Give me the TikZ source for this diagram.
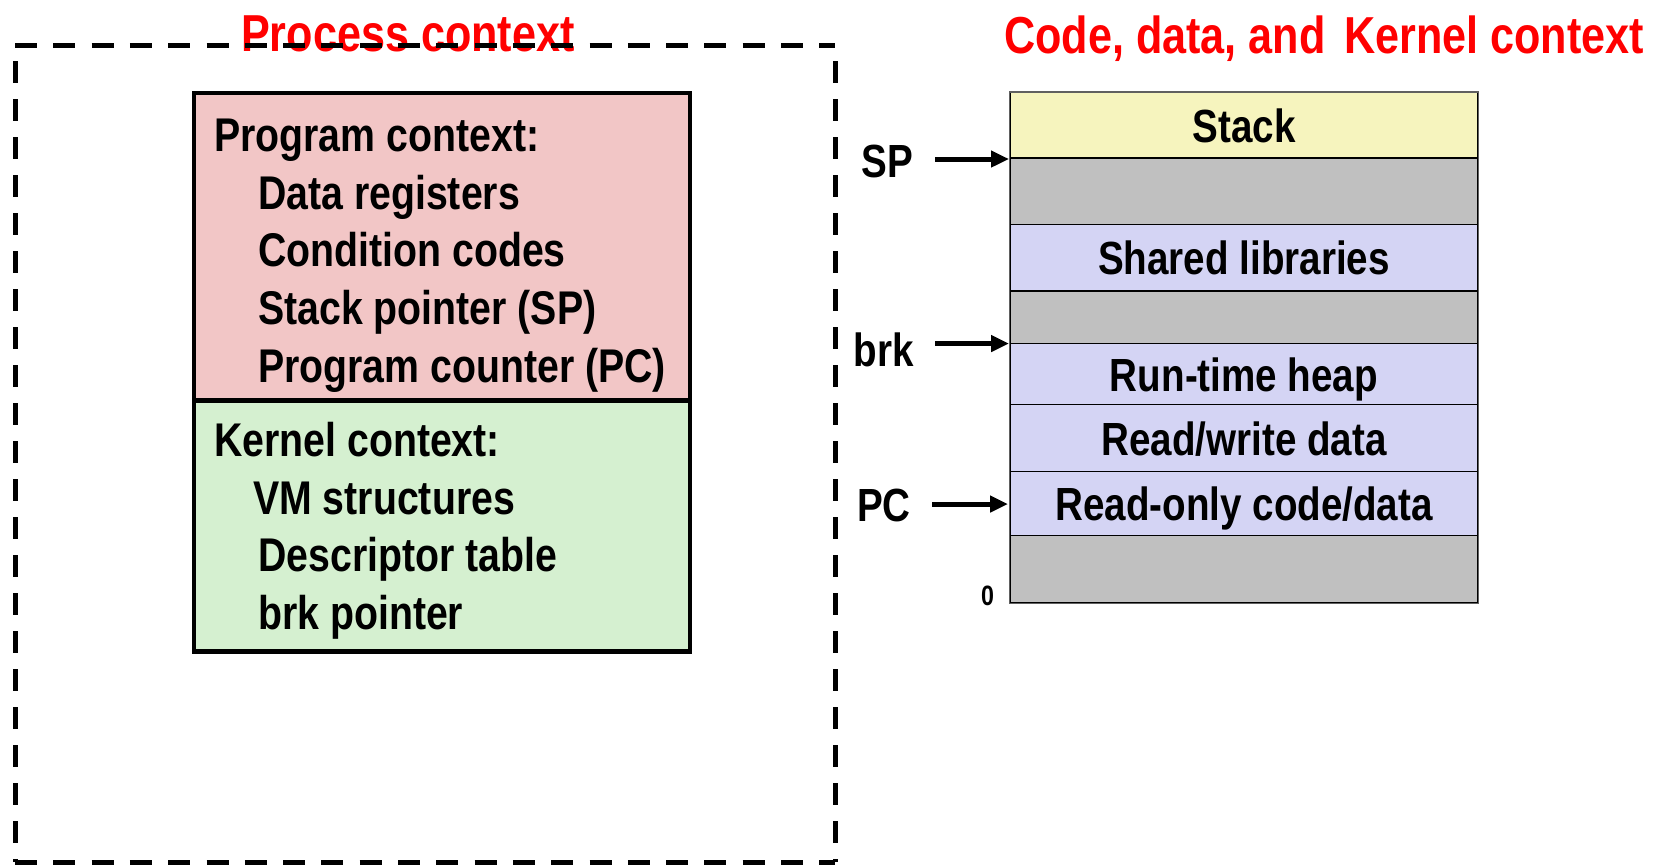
\documentclass[tikz,border=0pt]{standalone}
\usepackage{fontspec}
\setmainfont{Liberation Sans}[FakeStretch=0.83]
\usetikzlibrary{arrows.meta}
\definecolor{pinkf}{HTML}{F2C6C6}
\definecolor{greenf}{HTML}{D5F0D0}
\definecolor{yelf}{HTML}{F6F4BE}
\definecolor{grayf}{HTML}{C0C0C0}
\definecolor{lavf}{HTML}{D4D4F4}
\definecolor{redt}{HTML}{FF0000}
\definecolor{edgec}{HTML}{606060}
\begin{document}
\begin{tikzpicture}[x=1pt,y=-1pt,
  txt/.style={anchor=base west,inner sep=0pt,font=\fontsize{47.3}{50}\selectfont\bfseries},
  ttl/.style={anchor=base west,inner sep=0pt,text=redt,font=\fontsize{52}{56}\selectfont\bfseries},
  ctxbox/.style={draw=black,line width=4.5pt,minimum width=496pt,inner sep=0pt},
  row/.style={draw=black,line width=1.2pt,minimum width=468pt,inner sep=0pt,text height=34pt,text depth=0pt,font=\fontsize{46.5}{50}\selectfont\bfseries},
  lbl/.style={anchor=base east,inner sep=0pt,font=\fontsize{46.5}{50}\selectfont\bfseries},
  ptr/.style={line width=5pt,-{Triangle[length=18pt,width=16pt]}},
  hdash/.style={line width=5pt,dash pattern=on 22pt off 16.3pt},
  vdash/.style={line width=5pt,dash pattern=on 22pt off 16pt,dash phase=22pt}]
\useasboundingbox (0,0) rectangle (1653,865);

% titles
\node[ttl] (ptitle) at (241,51) {Process context};
\node[ttl] (ctitle) at (1004,53) {Code, data, and};
\node[ttl] (ktitle) at (1344,53) {Kernel context};

% left context boxes
\node[ctxbox,fill=pinkf,minimum height=307.6pt] (prog) at (442,246.8) {};
\node[ctxbox,fill=greenf,minimum height=251pt] (kern) at (442,526) {};

\node[txt] (p0) at (214,151.7) {Program context:};
\node[txt] (p1) at (258,209.3) {Data registers};
\node[txt] (p2) at (258,266.9) {Condition codes};
\node[txt] (p3) at (258,324.5) {Stack pointer (SP)};
\node[txt] (p4) at (258,382.1) {Program counter (PC)};

\node[txt] (k0) at (214,456.5) {Kernel context:};
\node[txt] (k1) at (253,514.1) {VM structures};
\node[txt] (k2) at (258,571.7) {Descriptor table};
\node[txt] (k3) at (258,629.3) {brk pointer};

% dashed process box
\coordinate (bnw) at (15,45);
\coordinate (bne) at (835,45);
\coordinate (bsw) at (15,862);
\coordinate (bse) at (835,862);
\draw[hdash] (bnw) -- (bne);
\draw[hdash] (bsw) -- (bse);
\draw[vdash] (bnw) -- (bsw);
\draw[vdash] (bne) -- (bse);

% memory layout
\node[row,fill=yelf,minimum height=65.2pt] (stack) at (1244,125.4) {Stack};
\node[row,fill=grayf,minimum height=66.5pt] (g1) at (1244,191.25) {};
\node[row,fill=lavf,minimum height=66.5pt] (shared) at (1244,257.75) {Shared libraries};
\node[row,fill=grayf,minimum height=52.5pt] (g2) at (1244,317.25) {};
\node[row,fill=lavf,minimum height=61pt] (heap) at (1244,374) {Run-time heap};
\node[row,fill=lavf,minimum height=67pt] (rw) at (1244,438) {Read/write data};
\node[row,fill=lavf,minimum height=64pt] (ro) at (1244,503.5) {Read-only code/data};
\node[row,fill=grayf,minimum height=67.5pt] (g3) at (1244,569.25) {};
\draw[edgec,line width=1.6pt] (stack.north west) rectangle (g3.south east);

% pointers
\node[lbl] (sp) at (913,177) {SP};
\node[lbl] (brk) at (914,366) {brk};
\node[lbl] (pc) at (911,521) {PC};
\node[inner sep=0pt,font=\fontsize{28}{30}\selectfont\bfseries] (zero) at (987.5,596) {0};

\coordinate (spa) at (935,159);
\coordinate (spb) at (1009,159);
\coordinate (brka) at (935,343.5);
\coordinate (brkb) at (1009,343.5);
\coordinate (pca) at (932,504);
\coordinate (pcb) at (1008,504);
\draw[ptr] (spa) -- (spb);
\draw[ptr] (brka) -- (brkb);
\draw[ptr] (pca) -- (pcb);
\end{tikzpicture}
\end{document}
